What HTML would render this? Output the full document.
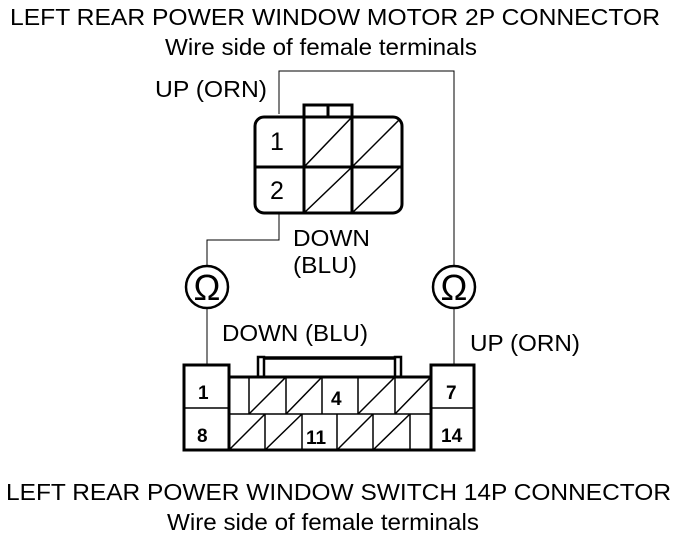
<!DOCTYPE html>
<html><head><style>body{margin:0;background:#fff}svg{display:block}</style></head><body>
<svg width="688" height="538" viewBox="0 0 688 538" xmlns="http://www.w3.org/2000/svg" font-family="Liberation Sans, Arial, sans-serif" fill="none" stroke="#000">
<g fill="#000" stroke="none" font-size="23">
<text x="10" y="25" textLength="650" lengthAdjust="spacingAndGlyphs">LEFT REAR POWER WINDOW MOTOR 2P CONNECTOR</text>
<text x="165" y="55" textLength="312" lengthAdjust="spacingAndGlyphs">Wire side of female terminals</text>
<text x="155" y="97" textLength="112" lengthAdjust="spacingAndGlyphs">UP (ORN)</text>
<text x="293" y="246" textLength="77" lengthAdjust="spacingAndGlyphs">DOWN</text>
<text x="293" y="273" textLength="64" lengthAdjust="spacingAndGlyphs">(BLU)</text>
<text x="222" y="341" textLength="146" lengthAdjust="spacingAndGlyphs">DOWN (BLU)</text>
<text x="470" y="351" textLength="110" lengthAdjust="spacingAndGlyphs">UP (ORN)</text>
<text x="6" y="500" textLength="665" lengthAdjust="spacingAndGlyphs">LEFT REAR POWER WINDOW SWITCH 14P CONNECTOR</text>
<text x="167" y="530" textLength="312" lengthAdjust="spacingAndGlyphs">Wire side of female terminals</text>
<text x="270" y="150" font-size="25">1</text>
<text x="270" y="199" font-size="25">2</text>
<g font-weight="bold" font-size="19">
<text x="198" y="399">1</text>
<text x="331" y="405">4</text>
<text x="446" y="399">7</text>
<text x="197" y="442">8</text>
<text x="306" y="444">11</text>
<text x="441" y="442">14</text>
</g>
<text x="207" y="300" font-size="36" text-anchor="middle">Ω</text>
<text x="454" y="300" font-size="36" text-anchor="middle">Ω</text>
</g>
<!-- wires -->
<g stroke-width="1">
<polyline points="279,114 279,71 454,71 454,266"/>
<polyline points="279,214 279,240 207,240 207,266"/>
<line x1="207" y1="308" x2="207" y2="364"/>
<line x1="454" y1="308" x2="454" y2="364"/>
</g>
<g stroke-width="2.5">
<circle cx="207" cy="287" r="21"/>
<circle cx="454" cy="287" r="21"/>
</g>
<!-- top connector -->
<g stroke-width="3">
<rect x="304" y="105" width="48" height="12"/>
<line x1="328" y1="105" x2="328" y2="117"/>
<rect x="255" y="117" width="147" height="96" rx="9"/>
<line x1="304" y1="117" x2="304" y2="213"/>
<line x1="352" y1="117" x2="352" y2="213"/>
<line x1="255" y1="167" x2="402" y2="167"/>
</g>
<g stroke-width="1.5">
<line x1="304" y1="167" x2="352" y2="117"/>
<line x1="352" y1="167" x2="400" y2="119"/>
<line x1="304" y1="213" x2="352" y2="167"/>
<line x1="352" y1="213" x2="400" y2="167"/>
</g>
<!-- bottom connector -->
<g stroke-width="3">
<path d="M184,450 V365 H229 V377 H431 V365 H474 V450 Z"/>
<rect x="258" y="357" width="6" height="20" stroke-width="2.5"/>
<rect x="395" y="357" width="6" height="20" stroke-width="2.5"/>
<line x1="264" y1="358" x2="395" y2="358" stroke-width="3.5"/>
<line x1="229" y1="377" x2="229" y2="450"/>
<line x1="431" y1="377" x2="431" y2="450"/>
<line x1="184" y1="408" x2="229" y2="408" stroke-width="1.5"/>
<line x1="431" y1="408" x2="474" y2="408" stroke-width="1.5"/>
<line x1="229" y1="414" x2="431" y2="414" stroke-width="1.5"/>
</g>
<g stroke-width="1.5">
<path d="M249,377V414 M286,377V414 M322,377V414 M358,377V414 M395,377V414"/>
<path d="M265,414V450 M302,414V450 M337,414V450 M373,414V450 M410,414V450"/>
<path d="M249,414L286,377 M286,414L322,377 M358,414L395,377 M395,414L431,377"/>
<path d="M229,450L265,414 M265,450L302,414 M337,450L373,414 M373,450L410,414"/>
</g>
</svg>
</body></html>
